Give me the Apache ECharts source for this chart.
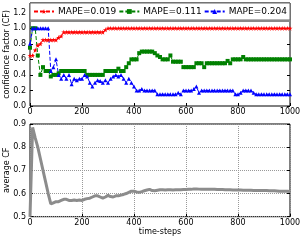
<!DOCTYPE html>
<html><head><meta charset="utf-8">
<script src="https://cdn.jsdelivr.net/npm/echarts@6/dist/echarts.min.js"></script>
<style>html,body{margin:0;padding:0;background:#fff}#c{width:305px;height:240px}</style>
</head><body><div id="c"></div>
<script>
const steps = [0,10,20,30,40,50,60,70,80,90,
100,110,120,130,140,150,160,170,180,190,
200,210,220,230,240,250,260,270,280,290,
300,310,320,330,340,350,360,370,380,390,
400,410,420,430,440,450,460,470,480,490,
500,510,520,530,540,550,560,570,580,590,
600,610,620,630,640,650,660,670,680,690,
700,710,720,730,740,750,760,770,780,790,
800,810,820,830,840,850,860,870,880,890,
900,910,920,930,940,950,960,970,980,990,
1000];
const seriesNames = ['MAPE=0.019','MAPE=0.111','MAPE=0.204'];
const cfTicks = [0, 0.2, 0.4, 0.6, 0.8, 1.0, 1.2];
const avgTicks = [0.5, 0.6, 0.7, 0.8, 0.9];
const cfRed = [0.65,0.65,0.72,0.78,0.80,0.85,0.85,0.85,0.85,0.85,
0.85,0.88,0.90,0.95,0.95,0.95,0.95,0.95,0.95,0.95,
0.95,0.95,0.95,0.95,0.95,0.95,0.95,0.95,0.95,0.98,
1,1,1,1,1,1,1,1,1,1,
1,1,1,1,1,1,1,1,1,1,
1,1,1,1,1,1,1,1,1,1,
1,1,1,1,1,1,1,1,1,1,
1,1,1,1,1,1,1,1,1,1,
1,1,1,1,1,1,1,1,1,1,
1,1,1,1,1,1,1,1,1,1,
1];
const cfGreen = [0.75,1.00,1.00,0.65,0.40,0.50,0.45,0.45,0.38,0.40,
0.40,0.42,0.45,0.45,0.45,0.45,0.45,0.45,0.45,0.45,
0.45,0.45,0.40,0.40,0.40,0.40,0.40,0.40,0.40,0.45,
0.45,0.45,0.45,0.45,0.48,0.45,0.45,0.50,0.55,0.60,
0.60,0.60,0.68,0.70,0.70,0.70,0.70,0.70,0.68,0.65,
0.63,0.60,0.60,0.60,0.65,0.57,0.57,0.57,0.57,0.50,
0.50,0.50,0.50,0.50,0.55,0.55,0.55,0.50,0.55,0.55,
0.55,0.55,0.55,0.55,0.55,0.55,0.58,0.55,0.60,0.60,
0.60,0.60,0.63,0.60,0.60,0.60,0.60,0.60,0.60,0.60,
0.60,0.60,0.60,0.60,0.60,0.60,0.60,0.60,0.60,0.60,
0.60];
const cfBlue = [0.80,1.00,1.00,1.00,1.00,1.00,1.00,1.00,0.45,0.50,
0.60,0.40,0.35,0.40,0.35,0.40,0.28,0.35,0.33,0.35,
0.35,0.40,0.38,0.30,0.25,0.30,0.33,0.32,0.30,0.33,
0.30,0.35,0.38,0.40,0.38,0.40,0.35,0.30,0.35,0.30,
0.25,0.20,0.20,0.22,0.20,0.20,0.20,0.20,0.20,0.15,
0.15,0.15,0.15,0.15,0.15,0.15,0.15,0.17,0.15,0.20,
0.20,0.20,0.20,0.22,0.25,0.17,0.20,0.20,0.20,0.20,
0.20,0.20,0.20,0.20,0.20,0.20,0.20,0.20,0.20,0.15,
0.15,0.17,0.20,0.20,0.20,0.20,0.17,0.15,0.15,0.15,
0.15,0.15,0.15,0.15,0.15,0.15,0.15,0.15,0.15,0.15,
0.15];
const avgCF = [0.50,0.885,0.84,0.80,0.75,0.70,0.65,0.60,0.555,0.56,
0.565,0.565,0.57,0.575,0.575,0.57,0.57,0.572,0.57,0.572,
0.57,0.575,0.578,0.58,0.585,0.59,0.59,0.585,0.58,0.585,
0.592,0.587,0.585,0.59,0.59,0.593,0.596,0.60,0.605,0.61,
0.61,0.607,0.605,0.608,0.612,0.615,0.618,0.613,0.612,0.614,
0.616,0.616,0.615,0.616,0.616,0.615,0.616,0.616,0.616,0.617,
0.617,0.618,0.618,0.62,0.62,0.619,0.618,0.618,0.619,0.618,
0.618,0.618,0.617,0.617,0.617,0.616,0.616,0.616,0.615,0.615,
0.615,0.615,0.614,0.614,0.614,0.614,0.613,0.613,0.613,0.613,
0.613,0.613,0.612,0.612,0.612,0.611,0.61,0.61,0.61,0.61,
0.609];

const FONT = 'DejaVu Sans';
const star = 'path://M50,0 L61,35 L98,35 L68,57 L79,91 L50,70 L21,91 L32,57 L2,35 L39,35 Z';
const pair = arr => steps.map((s,i)=>[s, arr[i]]);
const lab = {fontSize:8, color:'#000', fontFamily:FONT};
const nameStyle = {fontSize:8, color:'#000', fontFamily:FONT};

function xAx(gi, name, split){
  return {type:'value', gridIndex:gi, min:0, max:1000, interval:200,
    name:name, nameLocation:'middle', nameGap:10, nameTextStyle:nameStyle,
    axisLine:{show:false}, axisTick:{inside:true,length:3,lineStyle:{color:'#000'}},
    axisLabel:Object.assign({margin:2, formatter:v=>String(v)}, lab),
    splitLine:{show:split, lineStyle:{type:'dotted', color:'#999'}}};
}
function yAx(gi, min, max, ticks, name, pos, split){
  const right = pos === 'right';
  return {type:'value', gridIndex:gi, position:pos, min:min, max:max,
    name:right?'':name, nameLocation:'middle', nameGap:19, nameRotate:90,
    nameMoveOverlap:false, nameTextStyle:nameStyle,
    axisLine:{show:false},
    axisTick:{inside:true,length:3,customValues:ticks,lineStyle:{color:'#000'}},
    axisLabel:Object.assign({margin:4, show:!right, customValues:ticks, hideOverlap:false, formatter:v=>v.toFixed(1)}, lab),
    splitLine:{show:split && !right, lineStyle:{type:'dotted', color:'#999'}}};
}
function cfSeries(name, arr, color, symbol, size){
  return {name:name, type:'line', xAxisIndex:0, yAxisIndex:0, data:pair(arr),
    symbol:symbol, symbolSize:size, showSymbol:true,
    itemStyle:{color:color}, lineStyle:{color:color, width:1, type:[4,2]}};
}

const gridBase = {left:30, right:15, show:true, borderColor:'#000', borderWidth:1,
  backgroundColor:'transparent', containLabel:false, outerBoundsMode:'none'};
const chart = echarts.init(document.getElementById('c'), null, {renderer:'canvas'});
chart.setOption({
  animation:false,
  backgroundColor:'#fff',
  textStyle:{fontFamily:FONT},
  grid:[
    Object.assign({top:3, height:103}, gridBase),
    Object.assign({top:124, height:92.7}, gridBase)
  ],
  graphic:[
    {type:'rect', z:3, shape:{x:30, y:3, width:260, height:17}, style:{fill:'#fff', stroke:'#666', lineWidth:1}},
    {type:'line', z:3, shape:{x1:30, y1:21, x2:290, y2:21}, style:{stroke:'#888', lineWidth:2}}
  ],
  legend:{data:seriesNames, left:33, top:7, padding:0, itemGap:2, itemWidth:20, itemHeight:6, z:5,
    textStyle:{fontSize:9, color:'#000', fontFamily:FONT, padding:[0,0,0,-1]}},
  xAxis:[xAx(0,'',false), xAx(1,'time-steps',true)],
  yAxis:[
    yAx(0,0,1.325,cfTicks,'confidence factor (CF)','left',false),
    yAx(0,0,1.325,cfTicks,'','right',false),
    yAx(1,0.5,0.9,avgTicks,'average CF','left',true),
    yAx(1,0.5,0.9,avgTicks,'','right',true)
  ],
  series:[
    cfSeries(seriesNames[0], cfRed, '#ff0000', star, 5),
    cfSeries(seriesNames[1], cfGreen, '#008000', 'rect', 4),
    cfSeries(seriesNames[2], cfBlue, '#0000ff', 'triangle', 4),
    {name:'average CF', type:'line', xAxisIndex:1, yAxisIndex:2, data:pair(avgCF),
      symbol:'none', lineStyle:{color:'#8c8c8c', width:3}, itemStyle:{color:'#8c8c8c'}}
  ]
});
</script></body></html>
